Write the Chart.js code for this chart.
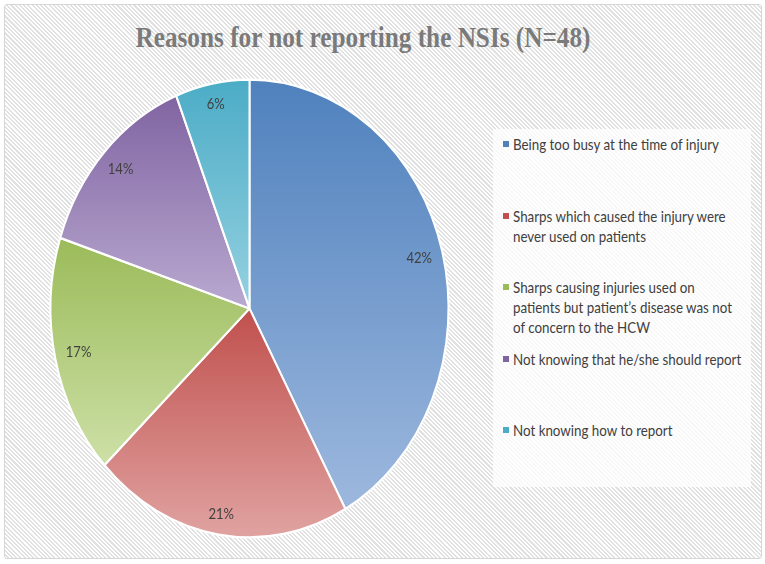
<!DOCTYPE html>
<html>
<head>
<meta charset="utf-8">
<script src="https://cdn.jsdelivr.net/npm/chart.js@4.4.1/dist/chart.umd.min.js"></script>
<style>
  html, body { margin: 0; padding: 0; background: #fff; }
  #stage { position: relative; width: 765px; height: 564px; overflow: hidden; }
  #frame {
    position: absolute; left: 4px; top: 4px; width: 758px; height: 555px;
    box-sizing: border-box; border: 1.5px solid #d6d6d6; border-radius: 3px;
    background: repeating-linear-gradient(45deg, #ffffff 0, #ffffff 1.5px, #e1e1e1 1.5px, #e1e1e1 3px);
  }
  #title {
    position: absolute; left: 0; top: 21px; width: 726px; text-align: center;
    font: bold 29px "Liberation Serif", serif; color: #7a7a7a; white-space: nowrap;
    transform: scaleX(0.87); transform-origin: 363px 0;
  }
  #legend {
    position: absolute; left: 493px; top: 129px; width: 258px; height: 358px;
    background: rgba(255, 255, 255, 0.75);
  }
  .item { position: absolute; left: 0; width: 258px; }
  .mark { position: absolute; left: 10px; top: 7px; width: 6px; height: 6px; }
  .txt {
    position: absolute; left: 20px; top: 0; white-space: nowrap;
    font: 15px Lato, "Open Sans", sans-serif; line-height: 20px; color: #404040;
    transform: scaleX(0.89); transform-origin: 0 0;
  }
  canvas { position: absolute; left: 0; top: 0; }
</style>
</head>
<body>
<div id="stage">
  <div id="frame"></div>
  <div id="title">Reasons for not reporting the NSIs (N=48)</div>
  <div id="legend"></div>
  <canvas id="pieChart" width="765" height="564"></canvas>
</div>
<script>
// data
const categories = [
  ['Being too busy at the time of injury'],
  ['Sharps which caused the injury were', 'never used on patients'],
  ['Sharps causing injuries used on', 'patients but patient\u2019s disease was not', 'of concern to the HCW'],
  ['Not knowing that he/she should report'],
  ['Not knowing how to report']
];
const percentages = [42, 21, 17, 14, 6];

const darkColors = ['#4f81bd', '#c0504d', '#9bbb59', '#8064a2', '#4bacc6'];
const lightColors = ['#9db8de', '#e0a3a1', '#cde0a7', '#b9a9d0', '#96d1e1'];

const SY = 1.15; // picture is squashed sideways, so the pie is an ellipse
const SX = 0.87;

// legend as html
const legendBox = document.getElementById('legend');
const slot = 358 / categories.length;
categories.forEach(function (lines, i) {
    const item = document.createElement('div');
    item.className = 'item';
    item.style.top = (i * slot + 5) + 'px';
    const mark = document.createElement('div');
    mark.className = 'mark';
    mark.style.background = darkColors[i];
    const txt = document.createElement('div');
    txt.className = 'txt';
    txt.innerHTML = lines.join('<br>');
    item.appendChild(mark);
    item.appendChild(txt);
    legendBox.appendChild(item);
});

const total = percentages.reduce(function (a, b) { return a + b; }, 0);

function sliceGradient(c) {
    const i = c.dataIndex;
    const chart = c.chart;
    const area = chart.chartArea;
    if (!area || i === undefined) return darkColors[i || 0];
    const cy = (area.top + area.bottom) / 2;
    const r = Math.min(area.right - area.left, area.bottom - area.top) / 2;
    let before = 0;
    for (let k = 0; k < i; k++) before += percentages[k];
    const a0 = before / total * Math.PI * 2;
    const a1 = (before + percentages[i]) / total * Math.PI * 2;
    const ys = [0, -Math.cos(a0), -Math.cos(a1)];
    if (a0 <= 0) ys.push(-1);
    if (a0 <= Math.PI && a1 >= Math.PI) ys.push(1);
    const top = cy + Math.min.apply(null, ys) * r;
    const bottom = cy + Math.max.apply(null, ys) * r;
    const g = chart.ctx.createLinearGradient(0, top, 0, bottom);
    g.addColorStop(0, darkColors[i]);
    g.addColorStop(1, lightColors[i]);
    return g;
}

const ellipsePlugin = {
    id: 'ellipse',
    beforeDatasetsDraw: function (chart) {
        const a = chart.chartArea;
        const cy = (a.top + a.bottom) / 2;
        const ctx = chart.ctx;
        ctx.save();
        ctx.translate(0, cy);
        ctx.scale(1, SY);
        ctx.translate(0, -cy);
    },
    afterDatasetsDraw: function (chart) {
        const ctx = chart.ctx;
        ctx.restore();
        const meta = chart.getDatasetMeta(0);
        ctx.save();
        ctx.fillStyle = '#404040';
        ctx.font = '15px Lato, "Open Sans", sans-serif';
        ctx.textAlign = 'center';
        ctx.textBaseline = 'middle';
        meta.data.forEach(function (arc, i) {
            const mid = (arc.startAngle + arc.endAngle) / 2;
            const ux = Math.cos(mid), uy = Math.sin(mid);
            const d = arc.outerRadius - (17 + 7 * Math.abs(ux));
            ctx.save();
            ctx.translate(arc.x + ux * d, arc.y + uy * d * SY);
            ctx.scale(SX, 1);
            ctx.fillText(percentages[i] + '%', 0, 0);
            ctx.restore();
        });
        ctx.restore();
    }
};

new Chart(document.getElementById('pieChart').getContext('2d'), {
    type: 'pie',
    data: {
        labels: categories,
        datasets: [{
            data: percentages,
            backgroundColor: sliceGradient,
            borderColor: '#ffffff',
            borderWidth: 2
        }]
    },
    options: {
        responsive: false,
        animation: false,
        events: [],
        layout: { padding: { left: 49.5, right: 315.5, top: 108.5, bottom: 55.5 } },
        plugins: {
            legend: { display: false },
            tooltip: { enabled: false }
        }
    },
    plugins: [ellipsePlugin]
});
</script>
</body>
</html>
